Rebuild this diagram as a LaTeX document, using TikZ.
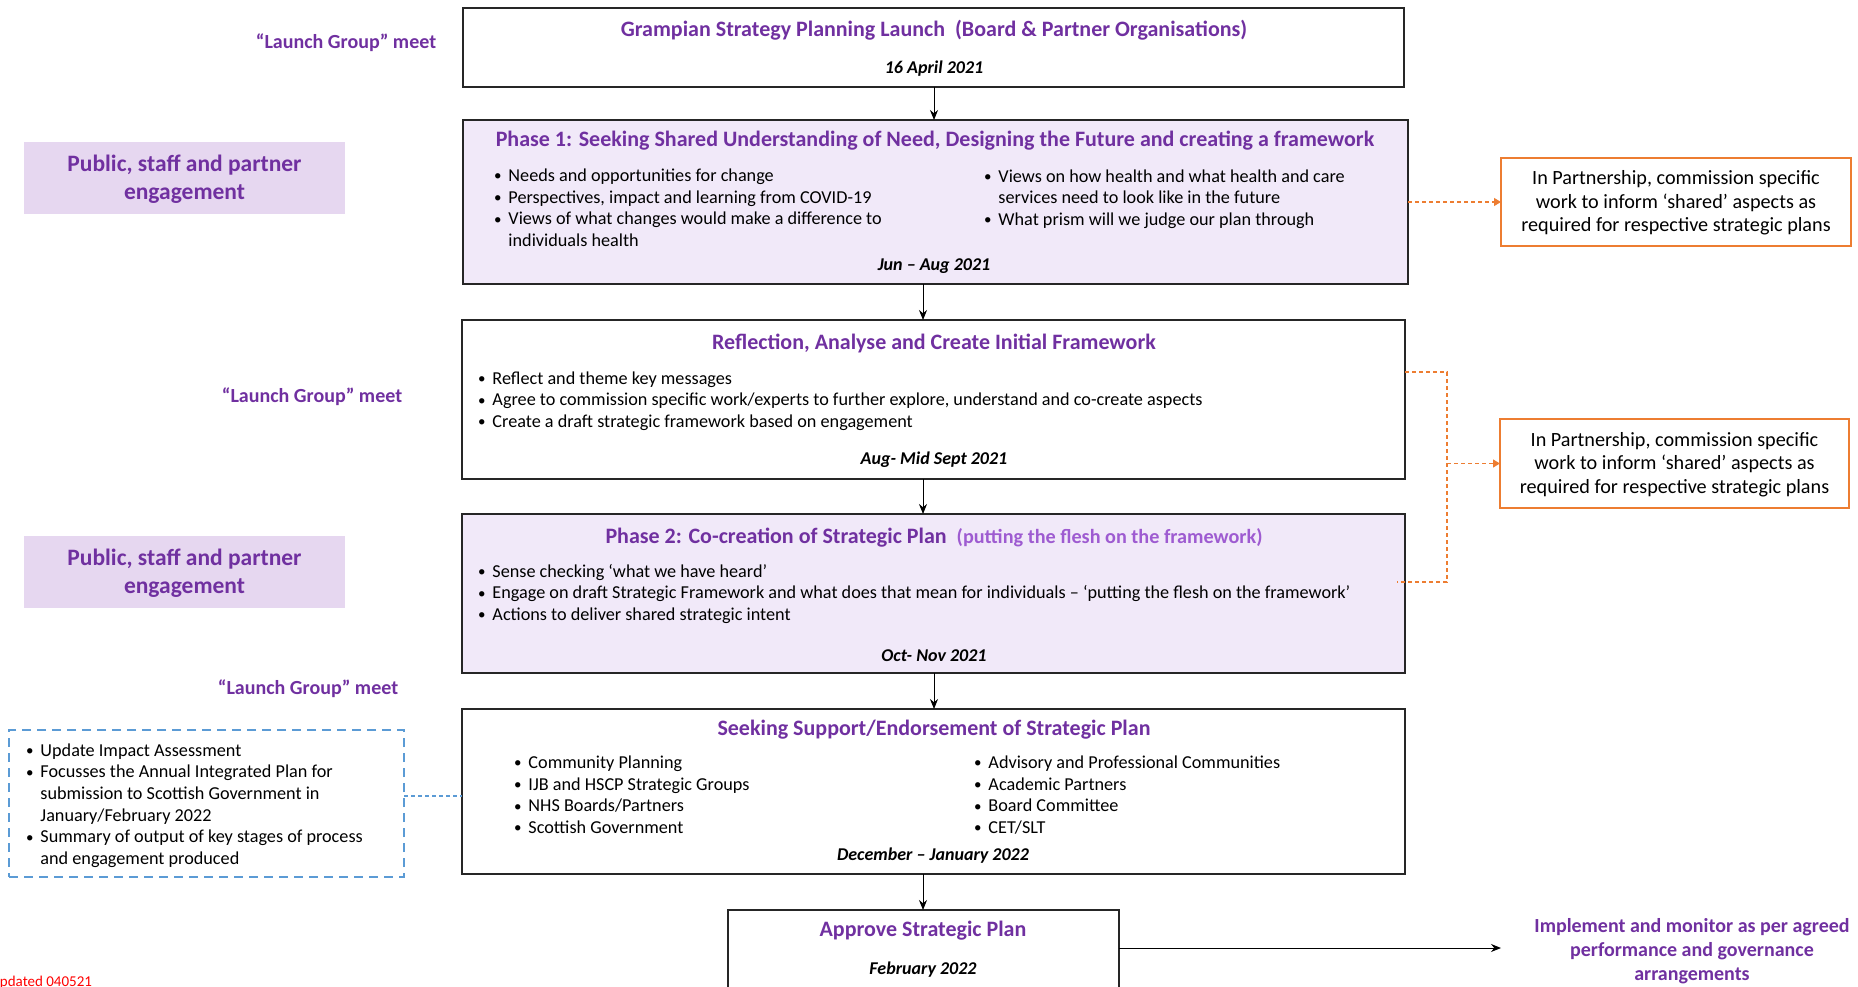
\documentclass[tikz,border=0pt]{standalone}
\usepackage{fontspec}
\setmainfont{Carlito}
\usetikzlibrary{arrows.meta}
\definecolor{ttl}{HTML}{7030A0}
\definecolor{ttlb}{HTML}{9E5BD1}
\definecolor{phfill}{HTML}{F1E9F9}
\definecolor{engfill}{HTML}{E6D7F0}
\definecolor{orng}{HTML}{ED7D31}
\definecolor{blu}{HTML}{5B9BD5}
\newcommand{\bodyfont}{\fontsize{18.2}{21.6}\selectfont}
\newcommand{\ttlfont}{\fontsize{22}{25}\selectfont\bfseries}
\newcommand{\datefont}{\fontsize{18}{20}\selectfont\bfseries\itshape}
\newcommand{\bu}{\raisebox{0.5pt}{\fontsize{15}{15}\selectfont •}}
\begin{document}
\begin{tikzpicture}[x=1pt,y=-1pt,
  box/.style={draw=black!85, line width=1.4pt, inner sep=0pt, outer sep=0pt, anchor=north west},
  engbox/.style={fill=engfill, draw=none, inner sep=0pt, outer sep=0pt, anchor=north west},
  obox/.style={draw=orng, line width=1.8pt, fill=white, inner sep=0pt, outer sep=0pt, anchor=north west},
  bbox/.style={draw=blu, line width=2pt, dash pattern=on 9pt off 6pt, inner sep=0pt, outer sep=0pt, anchor=north west},
  txt/.style={inner sep=0pt, outer sep=0pt, font=\bodyfont, align=left, yshift=-2.5pt},
  ttl/.style={inner sep=0pt, outer sep=0pt, font=\ttlfont, text=ttl, align=center, yshift=-2pt},
  dte/.style={inner sep=0pt, outer sep=0pt, font=\datefont, yshift=-2.5pt},
  arr/.style={line width=1pt, -{Stealth[length=10pt,width=8pt]}},
  odash/.style={draw=orng, line width=1.3pt, dash pattern=on 4pt off 3pt},
  oarr/.style={odash, -{Triangle[length=7pt,width=8pt]}},
  bdash/.style={draw=blu, line width=1.3pt, dash pattern=on 4pt off 3pt}
]
\useasboundingbox (0,0) rectangle (1858,987);

% main boxes
\node[box, minimum width=941pt, minimum height=79pt] (b1) at (463,8) {};
\node[box, fill=phfill, minimum width=945pt, minimum height=164pt] (b2) at (463,120) {};
\node[box, minimum width=943pt, minimum height=159pt] (b3) at (462,320) {};
\node[box, fill=phfill, minimum width=943pt, minimum height=159pt] (b4) at (462,514) {};
\node[box, minimum width=943pt, minimum height=165pt] (b5) at (462,709) {};
\node[box, minimum width=391pt, minimum height=95pt] (b6) at (728,910) {};

% box 1
\node[ttl] (t1) at (934,28) {Grampian Strategy Planning Launch\ \ (Board \& Partner Organisations)};
\node[dte] (d1) at (934,66) {16 April 2021};

% box 2
\node[ttl] (t2) at (935,139) {Phase 1: Seeking Shared Understanding of Need, Designing the Future and creating a framework};
\node[txt, anchor=west] (l2a) at (494,207) {\begin{tabular}{@{}l@{\hspace{7pt}}l@{}}
\bu & Needs and opportunities for change\\
\bu & Perspectives, impact and learning from COVID-19\\
\bu & Views of what changes would make a difference to\\
  & individuals health
\end{tabular}};
\node[txt, anchor=west] (l2b) at (984,197) {\begin{tabular}{@{}l@{\hspace{7pt}}l@{}}
\bu & Views on how health and what health and care\\
  & services need to look like in the future\\
\bu & What prism will we judge our plan through
\end{tabular}};
\node[dte] (d2) at (934,264) {Jun – Aug 2021};

% box 3
\node[ttl] (t3) at (934,341) {Reflection, Analyse and Create Initial Framework};
\node[txt, anchor=west] (l3) at (478,399) {\begin{tabular}{@{}l@{\hspace{7pt}}l@{}}
\bu & Reflect and theme key messages\\
\bu & Agree to commission specific work/experts to further explore, understand and co-create aspects\\
\bu & Create a draft strategic framework based on engagement
\end{tabular}};
\node[dte] (d3) at (934,457) {Aug- Mid Sept 2021};

% box 4
\node[ttl, anchor=base] (t4) at (934,541) {Phase 2: Co-creation of Strategic Plan\ \ {\fontsize{20.2}{23}\selectfont\color{ttlb}(putting the flesh on the framework)}};
\node[txt, anchor=west] (l4) at (478,592) {\begin{tabular}{@{}l@{\hspace{7pt}}l@{}}
\bu & Sense checking ‘what we have heard’\\
\bu & Engage on draft Strategic Framework and what does that mean for individuals – ‘putting the flesh on the framework’\\
\bu & Actions to deliver shared strategic intent
\end{tabular}};
\node[dte] (d4) at (934,653) {Oct- Nov 2021};

% box 5
\node[ttl] (t5) at (934,728) {Seeking Support/Endorsement of Strategic Plan};
\node[txt, anchor=west] (l5a) at (514,794) {\begin{tabular}{@{}l@{\hspace{7pt}}l@{}}
\bu & Community Planning\\
\bu & IJB and HSCP Strategic Groups\\
\bu & NHS Boards/Partners\\
\bu & Scottish Government
\end{tabular}};
\node[txt, anchor=west] (l5b) at (974,794) {\begin{tabular}{@{}l@{\hspace{7pt}}l@{}}
\bu & Advisory and Professional Communities\\
\bu & Academic Partners\\
\bu & Board Committee\\
\bu & CET/SLT
\end{tabular}};
\node[dte] (d5) at (933,853) {December – January 2022};

% box 6
\node[ttl] (t6) at (923,929) {Approve Strategic Plan};
\node[dte] (d6) at (923,967) {February 2022};

% arrows between boxes
\coordinate (cA) at (934,0);
\coordinate (cB) at (923,0);
\draw[arr] (b1.south -| cA) -- (b2.north -| cA);
\draw[arr] (b2.south -| cB) -- (b3.north -| cB);
\draw[arr] (b3.south -| cB) -- (b4.north -| cB);
\draw[arr] (b4.south -| cA) -- (b5.north -| cA);
\draw[arr] (b5.south -| cB) -- (b6.north -| cB);

% left labels
\node[ttl, font=\fontsize{20}{23}\selectfont\bfseries] (lg1) at (346,41) {“Launch Group” meet};
\node[ttl, font=\fontsize{20}{23}\selectfont\bfseries] (lg2) at (312,395) {“Launch Group” meet};
\node[ttl, font=\fontsize{20}{23}\selectfont\bfseries] (lg3) at (308,687) {“Launch Group” meet};

\node[engbox, minimum width=321pt, minimum height=72pt] (e1) at (24,142) {};
\node[ttl, yshift=1pt, font=\fontsize{23.5}{28.5}\selectfont\bfseries] (e1t) at (e1.center) {Public, staff and partner\\engagement};
\node[engbox, minimum width=321pt, minimum height=72pt] (e2) at (24,536) {};
\node[ttl, yshift=1pt, font=\fontsize{23.5}{28.5}\selectfont\bfseries] (e2t) at (e2.center) {Public, staff and partner\\engagement};

% blue dashed box
\node[bbox, minimum width=395pt, minimum height=147pt] (bl) at (9,730) {};
\node[txt, anchor=west] (blt) at (26,803.5) {\begin{tabular}{@{}l@{\hspace{7pt}}l@{}}
\bu & Update Impact Assessment\\
\bu & Focusses the Annual Integrated Plan for\\
  & submission to Scottish Government in\\
  & January/February 2022\\
\bu & Summary of output of key stages of process\\
  & and engagement produced
\end{tabular}};
\coordinate (bly) at (0,796);
\draw[bdash] (bl.east |- bly) -- (b5.west |- bly);

% orange boxes
\node[obox, minimum width=350pt, minimum height=88pt] (o1) at (1501,158) {};
\node[txt, yshift=1.5pt, align=center, font=\fontsize{20.2}{23.6}\selectfont] (o1t) at (o1.center) {In Partnership, commission specific\\work to inform ‘shared’ aspects as\\required for respective strategic plans};
\node[obox, minimum width=349pt, minimum height=89pt] (o2) at (1500,419) {};
\node[txt, yshift=1.5pt, align=center, font=\fontsize{20.2}{23.6}\selectfont] (o2t) at (o2.center) {In Partnership, commission specific\\work to inform ‘shared’ aspects as\\required for respective strategic plans};

\draw[oarr] (b2.east |- o1.west) -- (o1.west);
\coordinate (ob3) at (1405,372);
\coordinate (ob4) at (1397,582);
\coordinate (oj1) at (1447,372);
\coordinate (oj2) at (1447,582);
\coordinate (oj3) at (1447,463.5);
\draw[odash] (ob3) -- (oj1) -- (oj2) -- (ob4);
\draw[oarr] (oj3) -- (o2.west);

% implement
\coordinate (b6r) at (1119,948);
\coordinate (imp) at (1501,948);
\draw[arr] (b6r) -- (imp);
\node[ttl, font=\fontsize{20}{24}\selectfont\bfseries] (it) at (1692,949) {Implement and monitor as per agreed\\performance and governance\\arrangements};

% updated note
\node[inner sep=0pt, outer sep=0pt, anchor=east, text=red, font=\fontsize{15}{18}\selectfont] (upd) at (92,982) {Updated 040521};
\end{tikzpicture}
\end{document}
